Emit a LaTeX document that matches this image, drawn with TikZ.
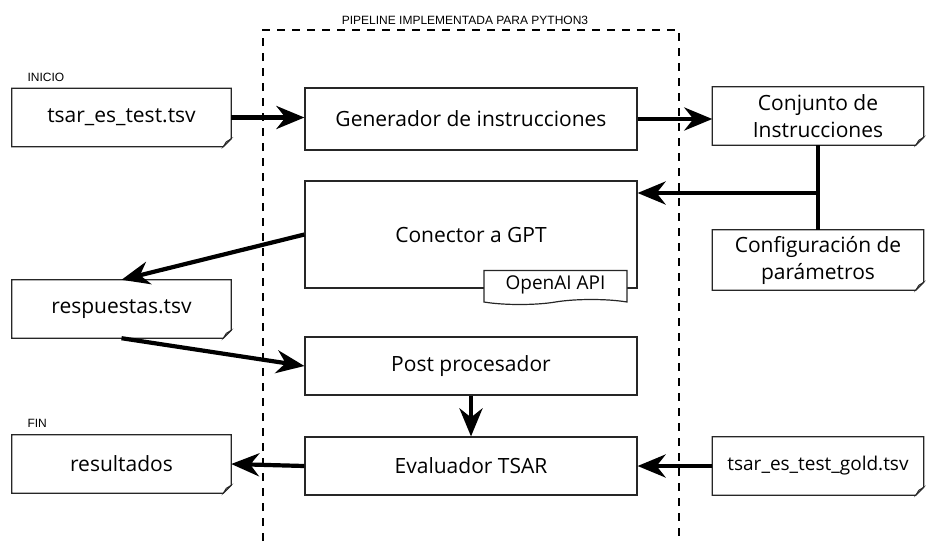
\documentclass[tikz,border=0pt]{standalone}
\usepackage{fontspec}
\setmainfont{Open Sans}
\newfontfamily\rotulo{Liberation Sans}
\usetikzlibrary{arrows.meta, shapes.symbols}
% contorno de archivo con la esquina doblada
\newcommand\doblez[1]{%
\draw[borde] (#1.north west) -- (#1.north east) -- ([yshift=8pt]#1.south east) -- ([xshift=-8pt]#1.south east) -- (#1.south west) -- cycle;
\draw[borde, line width=0.7pt, fill=black!30] ([yshift=8pt]#1.south east) -- ([xshift=-8pt]#1.south east) -- ([shift={(-5pt,5pt)}]#1.south east) -- cycle;}

\begin{document}
\begin{tikzpicture}[x=1pt, y=-1pt,
  borde/.style = {draw=black!85, line width=1.2pt},
  bloque/.style = {borde, fill=white, minimum width=332pt, minimum height=58pt, font=\fontsize{21}{26}\selectfont},
  archivo/.style = {minimum width=219pt, minimum height=58pt, inner sep=0pt, align=center, font=\fontsize{21}{27}\selectfont},
  nota/.style = {font=\rotulo\fontsize{12}{14}\selectfont, anchor=base west},
  flecha/.style = {-{Stealth[length=28pt, width=23pt, inset=9pt]}, line width=4.2pt},
  marco/.style = {line width=2.2pt, dash pattern=on 8pt off 7pt}]
\useasboundingbox (0,0) rectangle (926,541);

% marco del pipeline
\draw[marco] (263,541) -- (263,30) -- (679,30) -- (679,541);
\node[font=\rotulo\fontsize{12}{14}\selectfont] (titulo) at (465,20) {PIPELINE IMPLEMENTADA PARA PYTHON3};

% archivos de entrada y salida
\node[archivo] (entrada) at (121.5,117.5) {tsar\_es\_test.tsv};
\node[archivo] (respuestas) at (121.5,309) {respuestas.tsv};
\node[archivo] (resultados) at (121.5,464) {resultados};
\node[archivo, minimum width=211pt] (conjunto) at (818,116) {Conjunto de\\Instrucciones};
\node[archivo, minimum width=211pt, minimum height=60pt] (config) at (818,260) {Configuración de\\parámetros};
\node[archivo, minimum width=211pt, font=\fontsize{19}{23}\selectfont] (gold) at (818,466) {tsar\_es\_test\_gold.tsv};
\doblez{entrada}
\doblez{respuestas}
\doblez{resultados}
\doblez{conjunto}
\doblez{config}
\doblez{gold}
\node[nota] (inicio) at (24,81) {INICIO};
\node[nota] (fin) at (24,427) {FIN};

% etapas del pipeline
\node[bloque, minimum height=62pt] (generador) at (471,119) {Generador de instrucciones};
\node[bloque, minimum height=107pt] (conector) at (471,234.5) {Conector a GPT};
\node[borde, fill=white, tape, tape bend top=none, tape bend height=5pt, minimum width=143pt, minimum height=34pt, font=\fontsize{19}{23}\selectfont] (api) at (555.5,285) {OpenAI API};
\node[bloque] (post) at (471,366) {Post procesador};
\node[bloque] (evaluador) at (471,466) {Evaluador TSAR};

% flujo
\coordinate (union) at (818,193);
\draw[flecha] (entrada.east) -- (entrada.east -| generador.west);
\draw[flecha] (generador.east) -- (generador.east -| conjunto.west);
\draw[line width=4.2pt] (conjunto.south) -- (config.north);
\draw[flecha] (union) -- (union -| conector.east);
\draw[flecha] (conector.west) -- (respuestas.north);
\draw[flecha] (respuestas.south) -- (post.west);
\draw[flecha] (post.south) -- (evaluador.north);
\draw[flecha] (evaluador.west) -- (resultados.east);
\draw[flecha] (gold.west) -- (evaluador.east);
\end{tikzpicture}
\end{document}
